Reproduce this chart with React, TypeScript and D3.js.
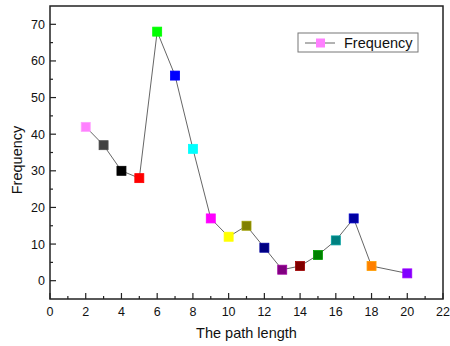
import React from 'react';
import * as d3 from 'd3';

const pathLengths = [2, 3, 4, 5, 6, 7, 8, 9, 10, 11, 12, 13, 14, 15, 16, 17, 18, 20];
const frequencies = [42, 37, 30, 28, 68, 56, 36, 17, 12, 15, 9, 3, 4, 7, 11, 17, 4, 2];
const markerColors = [
  '#ff80ff', '#404040', '#000000', '#ff0000', '#00ff00', '#0000ff', '#00ffff', '#ff00ff', '#ffff00',
  '#808000', '#000080', '#800080', '#800000', '#008000', '#008080', '#0000a0', '#ff8000', '#8000ff',
];
const xTicks = [0, 2, 4, 6, 8, 10, 12, 14, 16, 18, 20, 22];
const yTicks = [0, 10, 20, 30, 40, 50, 60, 70];

const left = 50, right = 443, top = 6, bottom = 299;
const font = 'Arial, "Liberation Sans", sans-serif';

export default function App() {
  const x = d3.scaleLinear().domain([0, 22]).range([left, right]);
  const y = d3.scaleLinear().domain([-5, 75]).range([bottom, top]);
  const data = pathLengths.map((p, i) => ({ p, f: frequencies[i], c: markerColors[i] }));
  const line = d3.line<{ p: number; f: number }>().x(d => x(d.p)).y(d => y(d.f));
  const xMinor = d3.range(1, 22, 2);
  const yMinor = d3.range(-5, 75, 10).filter(v => v > -5);

  return (
    <svg width={450} height={346} style={{ position: 'absolute', left: 0, top: 0 }}>
      <rect x={0} y={0} width={450} height={346} fill="#fff" />
      <path d={line(data) || ''} fill="none" stroke="#666" strokeWidth={1} />
      {data.map((d, i) => (
        <rect key={i} x={x(d.p) - 4.5} y={y(d.f) - 4.5} width={9} height={9}
          fill={d.c} stroke={d3.color(d.c)!.brighter(0.6).toString()} strokeWidth={0.8} />
      ))}
      <rect x={left} y={top} width={right - left} height={bottom - top} fill="none" stroke="#222" strokeWidth={1.5} />
      {xTicks.map(t => (
        <g key={'x' + t}>
          <line x1={x(t)} x2={x(t)} y1={bottom} y2={bottom - 6} stroke="#222" strokeWidth={1.2} />
          <text x={x(t)} y={bottom + 17} textAnchor="middle" fontFamily={font} fontSize={12.5} fill="#111">{t}</text>
        </g>
      ))}
      {xMinor.map(t => (
        <line key={'xm' + t} x1={x(t)} x2={x(t)} y1={bottom} y2={bottom - 3} stroke="#222" strokeWidth={1.2} />
      ))}
      {yTicks.map(t => (
        <g key={'y' + t}>
          <line x1={left} x2={left + 6} y1={y(t)} y2={y(t)} stroke="#222" strokeWidth={1.2} />
          <text x={left - 5} y={y(t) + 4.5} textAnchor="end" fontFamily={font} fontSize={12.5} fill="#111">{t}</text>
        </g>
      ))}
      {yMinor.map(t => (
        <line key={'ym' + t} x1={left} x2={left + 3} y1={y(t)} y2={y(t)} stroke="#222" strokeWidth={1.2} />
      ))}
      <text x={(left + right) / 2} y={338} textAnchor="middle" fontFamily={font} fontSize={14.5} fill="#111">The path length</text>
      <text transform="translate(22,160) rotate(-90)" textAnchor="middle" fontFamily={font} fontSize={14.5} fill="#111">Frequency</text>
      <g>
        <rect x={298} y={33} width={120} height={19} fill="#fff" stroke="#777" strokeWidth={1} />
        <line x1={305} x2={335} y1={43} y2={43} stroke="#666" strokeWidth={1} />
        <rect x={316} y={38.5} width={9} height={9} fill="#ff80ff" />
        <text x={344} y={48} fontFamily={font} fontSize={14.5} fill="#111">Frequency</text>
      </g>
    </svg>
  );
}
